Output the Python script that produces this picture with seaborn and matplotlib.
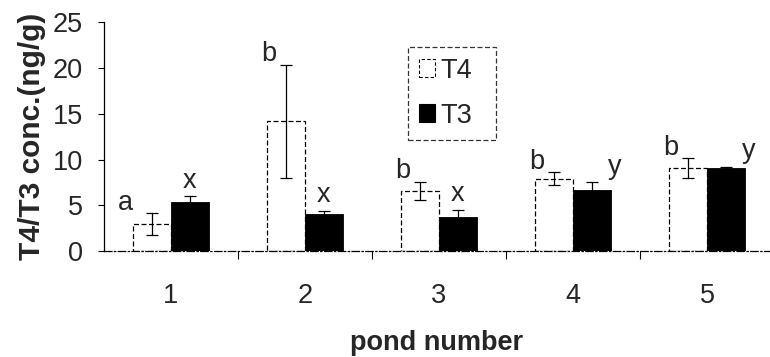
import matplotlib
matplotlib.use("Agg")
import matplotlib.pyplot as plt
import seaborn as sns
import pandas as pd
import numpy as np

ponds = ["1", "2", "3", "4", "5"]
t4_values = [3.0, 14.2, 6.6, 7.9, 9.1]
t4_errors = [1.2, 6.2, 1.0, 0.7, 1.1]
t3_values = [5.4, 4.0, 3.7, 6.7, 9.1]
t3_errors = [0.6, 0.4, 0.8, 0.8, 0.1]
t4_letters = ["a", "b", "b", "b", "b"]
t3_letters = ["x", "x", "x", "y", "y"]
series = ["T4", "T3"]
yticks = [0, 5, 10, 15, 20, 25]

sns.set_theme(style="white")
plt.rcParams["font.family"] = ["Liberation Sans", "DejaVu Sans"]

FS = 19.5

df = pd.DataFrame({
    "pond": ponds * 2,
    "series": [series[0]] * 5 + [series[1]] * 5,
    "value": t4_values + t3_values,
})

fig = plt.figure(figsize=(7.7, 3.57), dpi=100)
ax = fig.add_axes([0.135, 0.297, 0.865, 0.64])

sns.barplot(data=df, x="pond", y="value", hue="series", hue_order=series,
            order=ponds, palette={"T4": "white", "T3": "black"},
            width=0.567, errorbar=None, ax=ax, legend=True)

n = len(ponds)
patches = list(ax.patches)[:2 * n]
t4_patches = patches[:n]
t3_patches = patches[n:]
for p in t4_patches:
    p.set_edgecolor("black")
    p.set_linewidth(0.9)
    p.set_linestyle((0, (4, 2)))
for p in t3_patches:
    p.set_edgecolor("black")
    p.set_linewidth(0.6)

t4_x = [p.get_x() + p.get_width() / 2 for p in t4_patches]
t3_x = [p.get_x() + p.get_width() / 2 for p in t3_patches]

ax.errorbar(t4_x, t4_values, yerr=t4_errors, fmt="none", ecolor="black",
            elinewidth=0.9, capsize=4, capthick=0.9, zorder=5)
ax.errorbar(t3_x, t3_values, yerr=t3_errors, fmt="none", ecolor="black",
            elinewidth=0.9, capsize=4, capthick=0.9, zorder=1)

for i, (x, v, e, s) in enumerate(zip(t4_x, t4_values, t4_errors, t4_letters)):
    dx = -0.2 if s == "a" else -0.13
    ax.text(x + dx, v + e + 1.1, s, ha="center", va="center", fontsize=FS)
for x, v, e, s in zip(t3_x, t3_values, t3_errors, t3_letters):
    dx = 0.17 if s == "y" else 0.0
    ax.text(x + dx, v + e + 1.7, s, ha="center", va="center", fontsize=FS)

ax.set_ylim(0, 25)
ax.set_xlim(-0.5, 4.47)
ax.set_yticks(yticks)
ax.set_yticklabels([str(t) for t in yticks], fontsize=FS)
ax.set_xticks(range(n))
ax.set_xticklabels(ponds, fontsize=FS)
ax.set_xticks([i + 0.5 for i in range(n - 1)], minor=True)
ax.tick_params(axis="x", which="major", length=0, pad=23)
ax.tick_params(axis="x", which="minor", length=6, width=0.8, direction="out",
               color="black", bottom=True)
ax.tick_params(axis="y", which="major", length=4, width=0.8, direction="out",
               color="black", left=True, pad=11)

ax.set_xlabel("pond number", fontsize=FS, fontweight="bold", labelpad=15)
ax.set_ylabel("T4/T3 conc.(ng/g)", fontsize=21.5, fontweight="bold", labelpad=5)

for side in ["top", "right"]:
    ax.spines[side].set_visible(False)
ax.spines["left"].set_color("black")
ax.spines["left"].set_linewidth(0.9)
ax.spines["bottom"].set_color("black")
ax.spines["bottom"].set_linewidth(0.9)
ax.spines["bottom"].set_linestyle((0, (6, 2, 1, 2)))

leg = ax.legend(loc="upper left", bbox_to_anchor=(0.456, 0.49, 0.133, 0.403),
                mode="expand", borderaxespad=0, fontsize=FS, frameon=True,
                fancybox=False, handlelength=0.6, handleheight=0.65,
                handletextpad=0.2, labelspacing=0.7, borderpad=0.4, title=None)
frame = leg.get_frame()
frame.set_edgecolor("black")
frame.set_linewidth(0.9)
frame.set_linestyle((0, (4, 2)))
for h in leg.legend_handles:
    h.set_edgecolor("black")
    h.set_linewidth(0.8)
leg.legend_handles[0].set_linestyle((0, (3, 2)))

fig.savefig("out.png", dpi=100)
